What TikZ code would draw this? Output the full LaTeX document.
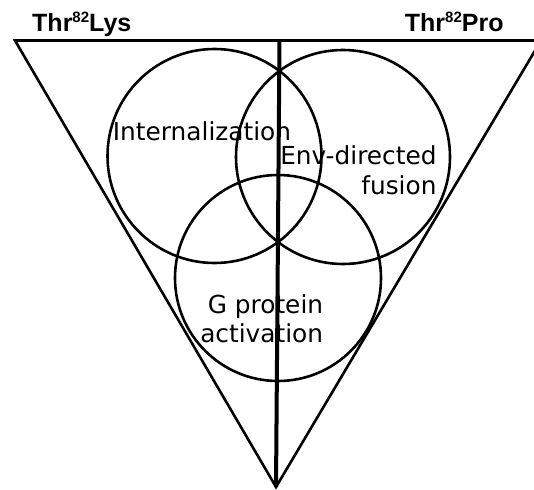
\documentclass[tikz,border=0pt]{standalone}
\usepackage{fontspec}
\setmainfont{DejaVu Sans}
\newfontfamily\headfont{Liberation Sans}
\usetikzlibrary{positioning}

\begin{document}
\begin{tikzpicture}[x=1pt, y=-1pt]
    \tikzstyle{set} = [circle, draw, line width=2.6pt, inner sep=0pt]
    \tikzstyle{setlabel} = [inner sep=0pt, align=right, font=\fontsize{24.8}{29.5}\selectfont]
    \tikzstyle{mutant} = [inner sep=0pt, anchor=base west, font=\headfont\bfseries\fontsize{25}{29}\selectfont]
    \newcommand{\supnum}[1]{\raisebox{0.36em}{\fontsize{15}{15}\selectfont #1}}

    \useasboundingbox (0,0) rectangle (534,489);

    % corners of the triangle
    \coordinate (lefttop) at (15,40.5);
    \coordinate (righttop) at (541,40.5);
    \coordinate (tip) at (276,487);
    \coordinate (axis) at (279.5,40.5);

    \draw[line width=2.6pt] (lefttop) -- (righttop) -- (tip) -- cycle;
    \draw[line width=4pt] (axis) -- (tip);

    % the three sets
    \node [set, minimum size=214pt] (internal) at (214.5,156) {};
    \node [set, minimum size=214pt] (fusion) at (343,157) {};
    \node [set, minimum size=206pt] (gprotein) at (278,278) {};

    \node [setlabel, anchor=base west] (internallabel) at (112.7,140.7) {Internalization};
    \node [setlabel, anchor=base east] (fusionlabel) at (436.7,194) {Env-directed\\fusion};
    \node [setlabel, anchor=base east] (gproteinlabel) at (323.3,342.7) {G protein\\activation};

    \node [mutant] (lys) at (32,31.7) {Thr\supnum{82}Lys};
    \node [mutant] (pro) at (404.7,31.7) {Thr\supnum{82}Pro};
\end{tikzpicture}
\end{document}
